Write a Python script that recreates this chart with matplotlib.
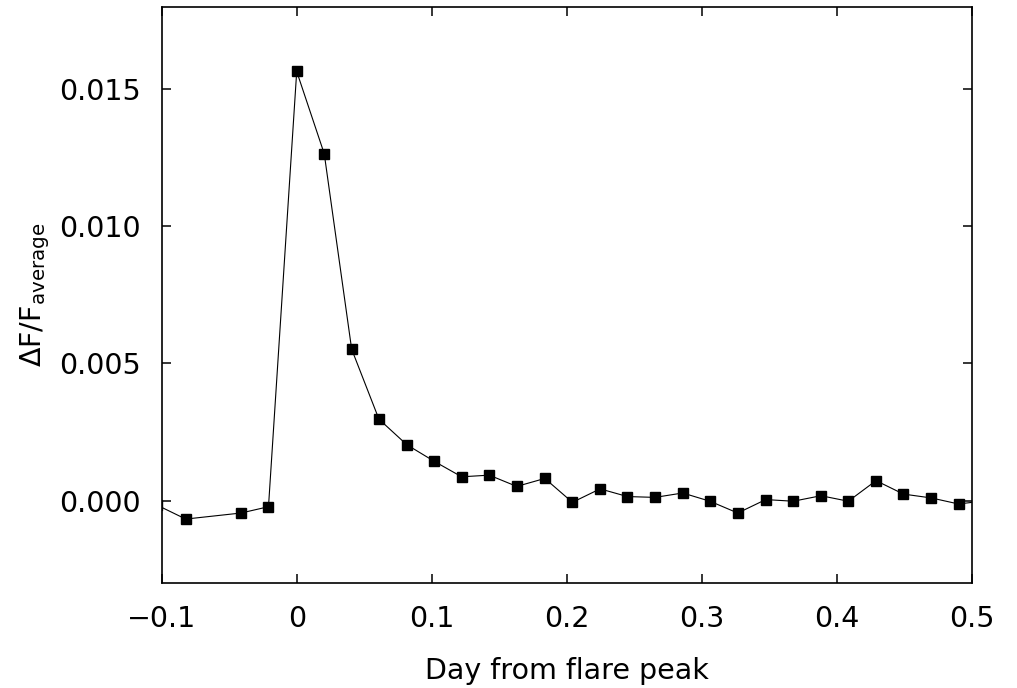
import matplotlib
matplotlib.use("Agg")
import matplotlib.pyplot as plt
from matplotlib.ticker import FuncFormatter

# Flare light curve, relative flux change vs. time from peak
days = [-0.1035, -0.0822, -0.0413, -0.0209, 0.0000, 0.0204, 0.0407, 0.0609,
        0.0815, 0.1020, 0.1222, 0.1426, 0.1630, 0.1838, 0.2042, 0.2247,
        0.2450, 0.2654, 0.2859, 0.3061, 0.3267, 0.3474, 0.3678, 0.3883,
        0.4086, 0.4291, 0.4494, 0.4700, 0.4902, 0.5108]
dflux = [-0.00016, -0.00067, -0.00045, -0.00022, 0.01564, 0.01264, 0.00552,
         0.00297, 0.00204, 0.00143, 0.00087, 0.00093, 0.00052, 0.00081,
         -0.00006, 0.00043, 0.00015, 0.00012, 0.00028, -0.00002, -0.00045,
         0.00004, -0.00002, 0.00018, -0.00002, 0.00073, 0.00024, 0.00010,
         -0.00012, 0.00000]

x_ticks = [-0.1, 0.0, 0.1, 0.2, 0.3, 0.4, 0.5]
y_ticks = [0.000, 0.005, 0.010, 0.015]

plt.rcParams["font.family"] = ["DejaVu Sans"]
plt.rcParams["mathtext.fontset"] = "dejavusans"

fig = plt.figure(figsize=(10.17, 6.88), dpi=100)
ax = fig.add_axes([0.159, 0.1526, 0.7965, 0.8377])

ax.plot(days, dflux, color="black", lw=0.8, marker="s", ms=6.5,
        mec="black", mfc="black")

ax.set_xlim(-0.1, 0.5)
ax.set_ylim(-0.003, 0.018)
ax.set_xticks(x_ticks)
ax.set_yticks(y_ticks)
ax.xaxis.set_major_formatter(
    FuncFormatter(lambda v, p: f"{v:g}".replace("-", "\u2212")))
ax.yaxis.set_major_formatter(FuncFormatter(lambda v, p: f"{v:.3f}"))
ax.minorticks_off()

ax.tick_params(direction="in", length=6.5, width=1.1, labelsize=20.5,
               top=True, right=True)
ax.tick_params(axis="x", pad=16)
ax.tick_params(axis="y", pad=15)
for s in ax.spines.values():
    s.set_linewidth(1.2)

ax.set_xlabel("Day from flare peak", fontsize=20.5, labelpad=17)
ax.set_ylabel(r"$\Delta$F/F$_{\mathrm{average}}$", fontsize=20.5)
ax.yaxis.set_label_coords(-0.136, 0.5)

fig.savefig("out.png", dpi=100)
